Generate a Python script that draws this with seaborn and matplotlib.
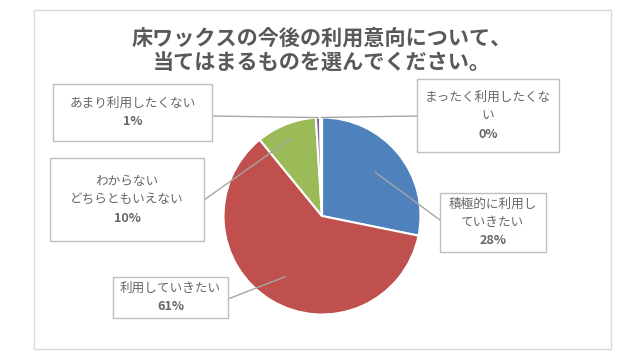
import numpy as np
import matplotlib
matplotlib.use("Agg")
import matplotlib.pyplot as plt
import seaborn as sns
from matplotlib.patches import Rectangle

sns.set_theme(style="white")
plt.rcParams['font.family'] = ['Noto Sans CJK JP', 'DejaVu Sans']

# Data (percent of answers)
categories = ["積極的に利用していきたい", "利用していきたい", "わからない どちらともいえない",
              "あまり利用したくない", "まったく利用したくない"]
label_lines = [["積極的に利用し", "ていきたい"],
               ["利用していきたい"],
               ["わからない", "どちらともいえない"],
               ["あまり利用したくない"],
               ["まったく利用したくな", "い"]]
values = [28.2, 60.9, 9.9, 0.7, 0.3]
colors = ["#4F81BD", "#C0504D", "#9BBB59", "#8064A2", "#4BACC6"]

title = "床ワックスの今後の利用意向について、\n当てはまるものを選んでください。"

W, H = 640, 360
fig = plt.figure(figsize=(6.4, 3.6), dpi=100)
ax = fig.add_axes([0, 0, 1, 1])

def py(y):
    # pixel row (from top) -> data y
    return H - y

# chart frame
ax.add_patch(Rectangle((34, py(349)), 577, 339, fill=False, edgecolor="#D9D9D9", linewidth=1))

cx, cy, r = 322, py(216), 98.5
wedges, _ = ax.pie(values, colors=colors, startangle=90, counterclock=False,
                   center=(cx, cy), radius=r,
                   wedgeprops=dict(edgecolor="white", linewidth=1.5))

# label boxes: (left, top, right, bottom) in pixels, leader anchor on box, radius fraction
boxes = [(440, 193, 546, 252), (113, 277, 228, 318), (50, 158, 204, 241),
         (53, 84, 212, 141), (417, 79, 559, 152)]
box_anchor = [(440, 220), (228, 299), (204, 200), (212, 116), (417, 116)]
r_frac = [0.7, 0.72, 0.85, 1.0, 1.0]

label_color = "#666666"
for w, v, lines, b, ba, f in zip(wedges, values, label_lines, boxes, box_anchor, r_frac):
    l, t, rr, bt = b
    ax.add_patch(Rectangle((l, py(bt)), rr - l, bt - t, facecolor="white",
                           edgecolor="#BFBFBF", linewidth=1, zorder=3))
    all_lines = lines + [f"{v:.0f}%"]
    n = len(all_lines)
    yc = (t + bt) / 2
    xc = (l + rr) / 2
    for i, s in enumerate(all_lines):
        y = yc + (i - (n - 1) / 2) * 18.5
        ax.text(xc, py(y), s, ha="center", va="center", fontsize=9.1,
                color=label_color, fontweight="bold" if i == n - 1 else "normal", zorder=4)
    mid = np.deg2rad((w.theta1 + w.theta2) / 2)
    ax.plot([cx + f * r * np.cos(mid), ba[0]], [cy + f * r * np.sin(mid), py(ba[1])],
            color="#A6A6A6", linewidth=1, zorder=2)

t1, t2 = title.split("\n")
ax.text(322, py(38), t1, ha="center", va="center", fontsize=15.2,
        fontweight="bold", color="#595959")
ax.text(322, py(63), t2, ha="center", va="center", fontsize=15.2,
        fontweight="bold", color="#595959")

ax.set_xlim(0, W)
ax.set_ylim(0, H)
ax.set_aspect("equal")
ax.axis("off")

fig.savefig("out.png", dpi=100, facecolor="white")
